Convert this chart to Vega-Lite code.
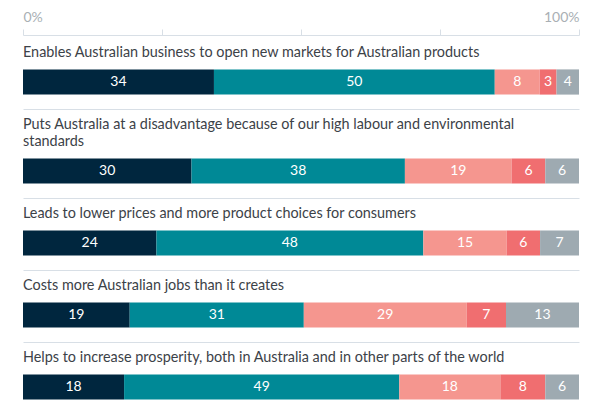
{
  "$schema": "https://vega.github.io/schema/vega-lite/v6.json",
  "padding": {"left": 22, "right": 22, "top": 10, "bottom": 0},
  "config": {
    "view": {"stroke": null},
    "font": "Lato",
    "title": {"font": "Lato", "fontSize": 14.4, "fontWeight": "normal", "color": "#3c4248", "anchor": "start", "offset": 8, "lineHeight": 17}
  },
  "data": {"values": [
    {"q": "Q1", "r": "Strongly agree", "v": 34},
    {"q": "Q1", "r": "Agree", "v": 50},
    {"q": "Q1", "r": "Disagree", "v": 8},
    {"q": "Q1", "r": "Strongly disagree", "v": 3},
    {"q": "Q1", "r": "Don't know", "v": 4},
    {"q": "Q2", "r": "Strongly agree", "v": 30},
    {"q": "Q2", "r": "Agree", "v": 38},
    {"q": "Q2", "r": "Disagree", "v": 19},
    {"q": "Q2", "r": "Strongly disagree", "v": 6},
    {"q": "Q2", "r": "Don't know", "v": 6},
    {"q": "Q3", "r": "Strongly agree", "v": 24},
    {"q": "Q3", "r": "Agree", "v": 48},
    {"q": "Q3", "r": "Disagree", "v": 15},
    {"q": "Q3", "r": "Strongly disagree", "v": 6},
    {"q": "Q3", "r": "Don't know", "v": 7},
    {"q": "Q4", "r": "Strongly agree", "v": 19},
    {"q": "Q4", "r": "Agree", "v": 31},
    {"q": "Q4", "r": "Disagree", "v": 29},
    {"q": "Q4", "r": "Strongly disagree", "v": 7},
    {"q": "Q4", "r": "Don't know", "v": 13},
    {"q": "Q5", "r": "Strongly agree", "v": 18},
    {"q": "Q5", "r": "Agree", "v": 49},
    {"q": "Q5", "r": "Disagree", "v": 18},
    {"q": "Q5", "r": "Strongly disagree", "v": 8},
    {"q": "Q5", "r": "Don't know", "v": 6}
  ]},
  "transform": [
    {"calculate": "indexof(['Strongly agree', 'Agree', 'Disagree', 'Strongly disagree', \"Don't know\"], datum.r)", "as": "ord"}
  ],
  "spacing": 8,
  "vconcat": [
    {
      "width": 556,
      "height": 1,
      "transform": [{"filter": {"field": "q", "equal": "Q1"}}],
      "mark": {"type": "rule", "opacity": 0},
      "encoding": {
        "x": {
          "field": "v", "type": "quantitative", "stack": "normalize",
          "scale": {"domain": [0, 1], "nice": false},
          "axis": {
            "orient": "top", "title": null, "grid": false,
            "values": [0, 0.25, 0.5, 0.75, 1],
            "labelExpr": "datum.value == 0 ? '0%' : datum.value == 1 ? '100%' : ''",
            "labelFlush": true, "labelFontSize": 14, "labelColor": "#a9afb4", "labelFont": "Lato", "labelPadding": 5,
            "domainColor": "#d8dfe6", "tickColor": "#d8dfe6", "tickSize": 6
          }
        }
      }
    },
    {
      "spacing": 7,
      "vconcat": [
        {
          "title": {"text": "Enables Australian business to open new markets for Australian products"},
          "width": 556, "height": 28,
          "transform": [{"filter": {"field": "q", "equal": "Q1"}}],
          "encoding": {
            "x": {"field": "v", "type": "quantitative", "stack": "normalize", "scale": {"domain": [0, 1], "nice": false},
              "axis": {"title": null, "labels": false, "ticks": false, "grid": false, "domainColor": "#d8dfe6", "offset": 13}},
            "order": {"field": "ord", "type": "quantitative"}
          },
          "layer": [
            {"mark": {"type": "bar"},
              "encoding": {"color": {"field": "r", "type": "nominal",
                "scale": {"domain": ["Strongly agree", "Agree", "Disagree", "Strongly disagree", "Don't know"], "range": ["#00263e", "#008996", "#f5968f", "#f06e70", "#9eaab1"]}, "legend": null}}},
            {"mark": {"type": "text", "color": "white", "fontSize": 14, "font": "Lato"},
              "encoding": {"x": {"field": "v", "type": "quantitative", "stack": "normalize", "bandPosition": 0.5}, "text": {"field": "v"}}}
          ]
        },
        {
          "title": {"text": ["Puts Australia at a disadvantage because of our high labour and environmental", "standards"]},
          "width": 556, "height": 28,
          "transform": [{"filter": {"field": "q", "equal": "Q2"}}],
          "encoding": {
            "x": {"field": "v", "type": "quantitative", "stack": "normalize", "scale": {"domain": [0, 1], "nice": false},
              "axis": {"title": null, "labels": false, "ticks": false, "grid": false, "domainColor": "#d8dfe6", "offset": 13}},
            "order": {"field": "ord", "type": "quantitative"}
          },
          "layer": [
            {"mark": {"type": "bar"},
              "encoding": {"color": {"field": "r", "type": "nominal",
                "scale": {"domain": ["Strongly agree", "Agree", "Disagree", "Strongly disagree", "Don't know"], "range": ["#00263e", "#008996", "#f5968f", "#f06e70", "#9eaab1"]}, "legend": null}}},
            {"mark": {"type": "text", "color": "white", "fontSize": 14, "font": "Lato"},
              "encoding": {"x": {"field": "v", "type": "quantitative", "stack": "normalize", "bandPosition": 0.5}, "text": {"field": "v"}}}
          ]
        },
        {
          "title": {"text": "Leads to lower prices and more product choices for consumers"},
          "width": 556, "height": 28,
          "transform": [{"filter": {"field": "q", "equal": "Q3"}}],
          "encoding": {
            "x": {"field": "v", "type": "quantitative", "stack": "normalize", "scale": {"domain": [0, 1], "nice": false},
              "axis": {"title": null, "labels": false, "ticks": false, "grid": false, "domainColor": "#d8dfe6", "offset": 13}},
            "order": {"field": "ord", "type": "quantitative"}
          },
          "layer": [
            {"mark": {"type": "bar"},
              "encoding": {"color": {"field": "r", "type": "nominal",
                "scale": {"domain": ["Strongly agree", "Agree", "Disagree", "Strongly disagree", "Don't know"], "range": ["#00263e", "#008996", "#f5968f", "#f06e70", "#9eaab1"]}, "legend": null}}},
            {"mark": {"type": "text", "color": "white", "fontSize": 14, "font": "Lato"},
              "encoding": {"x": {"field": "v", "type": "quantitative", "stack": "normalize", "bandPosition": 0.5}, "text": {"field": "v"}}}
          ]
        },
        {
          "title": {"text": "Costs more Australian jobs than it creates"},
          "width": 556, "height": 28,
          "transform": [{"filter": {"field": "q", "equal": "Q4"}}],
          "encoding": {
            "x": {"field": "v", "type": "quantitative", "stack": "normalize", "scale": {"domain": [0, 1], "nice": false},
              "axis": {"title": null, "labels": false, "ticks": false, "grid": false, "domainColor": "#d8dfe6", "offset": 13}},
            "order": {"field": "ord", "type": "quantitative"}
          },
          "layer": [
            {"mark": {"type": "bar"},
              "encoding": {"color": {"field": "r", "type": "nominal",
                "scale": {"domain": ["Strongly agree", "Agree", "Disagree", "Strongly disagree", "Don't know"], "range": ["#00263e", "#008996", "#f5968f", "#f06e70", "#9eaab1"]}, "legend": null}}},
            {"mark": {"type": "text", "color": "white", "fontSize": 14, "font": "Lato"},
              "encoding": {"x": {"field": "v", "type": "quantitative", "stack": "normalize", "bandPosition": 0.5}, "text": {"field": "v"}}}
          ]
        },
        {
          "title": {"text": "Helps to increase prosperity, both in Australia and in other parts of the world"},
          "width": 556, "height": 28,
          "transform": [{"filter": {"field": "q", "equal": "Q5"}}],
          "encoding": {
            "x": {"field": "v", "type": "quantitative", "stack": "normalize", "scale": {"domain": [0, 1], "nice": false},
              "axis": {"title": null, "labels": false, "ticks": false, "grid": false, "domainColor": "#d8dfe6", "offset": 13}},
            "order": {"field": "ord", "type": "quantitative"}
          },
          "layer": [
            {"mark": {"type": "bar"},
              "encoding": {"color": {"field": "r", "type": "nominal",
                "scale": {"domain": ["Strongly agree", "Agree", "Disagree", "Strongly disagree", "Don't know"], "range": ["#00263e", "#008996", "#f5968f", "#f06e70", "#9eaab1"]}, "legend": null}}},
            {"mark": {"type": "text", "color": "white", "fontSize": 14, "font": "Lato"},
              "encoding": {"x": {"field": "v", "type": "quantitative", "stack": "normalize", "bandPosition": 0.5}, "text": {"field": "v"}}}
          ]
        }
      ]
    }
  ]
}
